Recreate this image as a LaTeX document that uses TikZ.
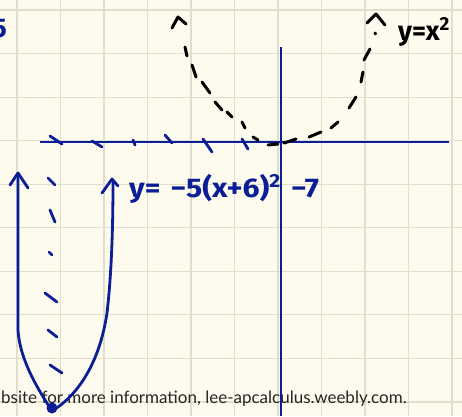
\documentclass[tikz,border=0pt]{standalone}
\usepackage{fontspec}
\usepackage{graphicx}
\setmainfont{Lato}
\newfontfamily\handfont{Fira Sans}
\usetikzlibrary{calc}

\definecolor{paper}{RGB}{253,251,238}
\definecolor{gridcol}{RGB}{226,222,204}
\definecolor{ink}{RGB}{12,30,150}

\begin{document}
\begin{tikzpicture}[
  % --- pixel-like units, y pointing down
  x=1pt, y=-1pt,
  gridline/.style={draw=gridcol, line width=1.1pt},
  axisline/.style={draw=ink, line width=2pt},
  inkline/.style={draw=ink, line width=2.8pt, line cap=round, line join=round},
  pencil/.style={draw=black, line width=3pt, line cap=round, line join=round},
  handlabel/.style={inner sep=0pt, font=\handfont\bfseries\fontsize{27}{27}\selectfont},
]

%========================
% Paper and grid
%========================
\fill[paper] (0,0) rectangle (462,416);
\useasboundingbox (0,0) rectangle (462,416);
\foreach \k in {0,...,10}
  \draw[gridline] ({17+43.5*\k},0) -- ({17+43.5*\k},416);
\foreach \k in {0,...,9}
  \draw[gridline] (0,{10+43.55*\k}) -- (462,{10+43.55*\k});

% footer line (cut at the left edge)
\node[anchor=base west, inner sep=0pt, text=black!85,
      font=\fontsize{17}{17}\selectfont]
  (footer) at (1,403) {bsite for more information, lee-apcalculus.weebly.com.};

%========================
% Labels
%========================
\node[handlabel, text=ink, anchor=north east] (five) at (7,19) {5};
\node[handlabel, text=ink, anchor=base west] (lblshift) at (129,197)
  {\scalebox{1.12}[1]{y=\,\,−5(x+6)\textsuperscript{2}\,\,−7}};
\node[handlabel, text=black, anchor=base west] (lblsq) at (398,40)
  {y=x\textsuperscript{2}};

%========================
% Axes
%========================
\coordinate (xl) at (40,142);
\coordinate (xr) at (449,142);
\coordinate (yt) at (281,47);
\coordinate (yb) at (281,416);
\draw[axisline] (xl) -- (xr);
\draw[axisline] (yt) -- (yb);

% ticks left on the x-axis
\foreach \xa/\ya/\xb/\yb in {50/136/62/144, 92/141/102/147, 133/140/135/145,
                             165/135/172/143, 203/139/212/152, 242/139/248/149}
  \draw[inkline] (\xa,\ya) -- (\xb,\yb);

%========================
% y = x^2 (dashed, by hand)
%========================
\foreach \xa/\ya/\xb/\yb in {185/47/187/56, 192/65/196/77, 202/82/210/93,
                             215/102/222/110, 227/112/232/117, 242/122/245/128,
                             253/137/258/140, 268/145/278/144, 284/143/296/139,
                             309/137/321/132, 331/128/338/122, 349/108/356/97,
                             361/82/363/72, 364/60/370/49, 375/33/375.5/34}
  \draw[pencil] (\xa,\ya) -- (\xb,\yb);
\draw[pencil] (172,28) -- (178,17) -- (186,24);
\draw[pencil] (367,23) -- (376,14) -- (385,25);

%========================
% y = -5(x+6)^2 - 7
%========================
% stretched copy, dashed
\foreach \xa/\ya/\xb/\yb in {48/178/55/185, 50/210/55/222, 49/252/52/255,
                             45/293/57/302, 48/330/57/337, 50/365/62/373}
  \draw[inkline] (\xa,\ya) -- (\xb,\yb);

\draw[inkline] (18,174) -- (18,330)
  .. controls (20,362) and (40,392) .. (52,411)
  .. controls (80,394) and (100,360) .. (107,313)
  .. controls (112,270) and (113,220) .. (113,181);
\draw[inkline] (10,185) -- (18,173) -- (28,188);
\draw[inkline] (102,193) -- (112,179) -- (118,186);
\fill[ink] (52,408) circle (5.5);

\end{tikzpicture}
\end{document}
